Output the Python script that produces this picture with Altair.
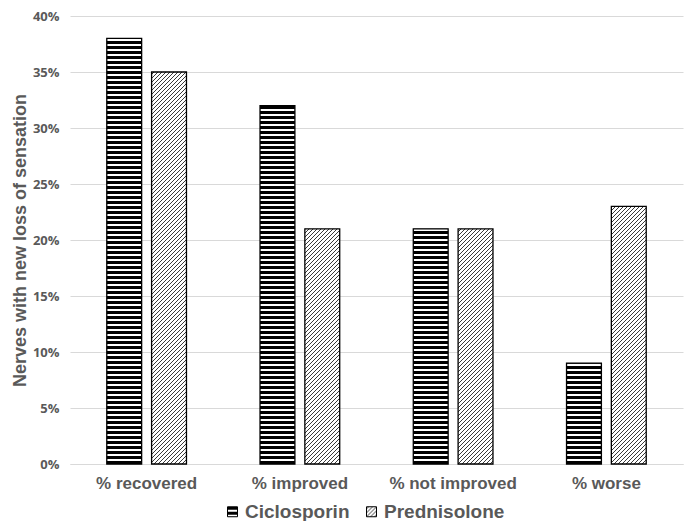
import altair as alt
import pandas as pd

categories = ["% recovered", "% improved", "% not improved", "% worse"]
ciclosporin = [0.38, 0.32, 0.21, 0.09]
prednisolone = [0.35, 0.21, 0.21, 0.23]
series = ["Ciclosporin", "Prednisolone"]

rows = []
for c, a, b in zip(categories, ciclosporin, prednisolone):
    rows.append({"cat": c, "series": series[0], "val": a})
    rows.append({"cat": c, "series": series[1], "val": b})
df = pd.DataFrame(rows)

GRAY = "#595959"
chart = alt.Chart(df).mark_bar(stroke="black", strokeWidth=1.3).encode(
    x=alt.X("cat:N", sort=categories, title=None,
            scale=alt.Scale(paddingInner=0.48, paddingOuter=0.24),
            axis=alt.Axis(labelAngle=0, labelFont="Liberation Sans", labelFontWeight="bold",
                          labelFontSize=17, labelColor=GRAY, ticks=False, domainColor="#d9d9d9",
                          labelPadding=11)),
    xOffset=alt.XOffset("series:N", sort=series, scale=alt.Scale(paddingInner=0.222)),
    y=alt.Y("val:Q", title="Nerves with new loss of sensation",
            scale=alt.Scale(domain=[0, 0.4]),
            axis=alt.Axis(format=".0%", values=[i * 0.05 for i in range(9)], domain=False, ticks=False,
                          labelFont="Open Sans", labelFontWeight="bold", labelFontSize=13,
                          labelColor=GRAY, gridColor="#d9d9d9", titleFont="Liberation Sans",
                          titleFontSize=18, titleFontWeight="bold", titleColor=GRAY, titlePadding=3,
                          labelPadding=11)),
    fill=alt.Fill("series:N", sort=series, title=None,
                  scale=alt.Scale(domain=series, range=["url(#hstripe)", "url(#dhatch)"]),
                  legend=alt.Legend(orient="none", legendX=153, legendY=486, direction="horizontal",
                                    symbolType="square",
                                    symbolSize=100, symbolStrokeColor="black", symbolStrokeWidth=1,
                                    labelFont="Liberation Sans", labelFontSize=19, labelOffset=3,
                                    labelFontWeight="bold", labelColor=GRAY, columnPadding=12)),
).properties(
    width=613, height=448,
    autosize=alt.AutoSizeParams(type="none"),
    padding={"left": 62, "top": 8, "right": 1, "bottom": 57},
).configure_view(stroke=None)

chart.save("out.html", embed_options={"renderer": "svg", "actions": False})

defs = ('<svg width="0" height="0" style="position:absolute"><defs>'
        '<pattern id="hstripe" patternUnits="userSpaceOnUse" width="6" height="5">'
        '<rect width="6" height="5" fill="white"/><rect width="6" height="3" fill="black"/></pattern>'
        '<pattern id="dhatch" patternUnits="userSpaceOnUse" width="4" height="4">'
        '<rect width="4" height="4" fill="white"/>'
        '<path d="M-1,1 l2,-2 M0,4 l4,-4 M3,5 l2,-2" stroke="#222" stroke-width="0.9"/></pattern>'
        '</defs></svg>')
with open("out.html") as f:
    html = f.read()
html = html.replace("<body>", "<body>" + defs, 1)
with open("out.html", "w") as f:
    f.write(html)
